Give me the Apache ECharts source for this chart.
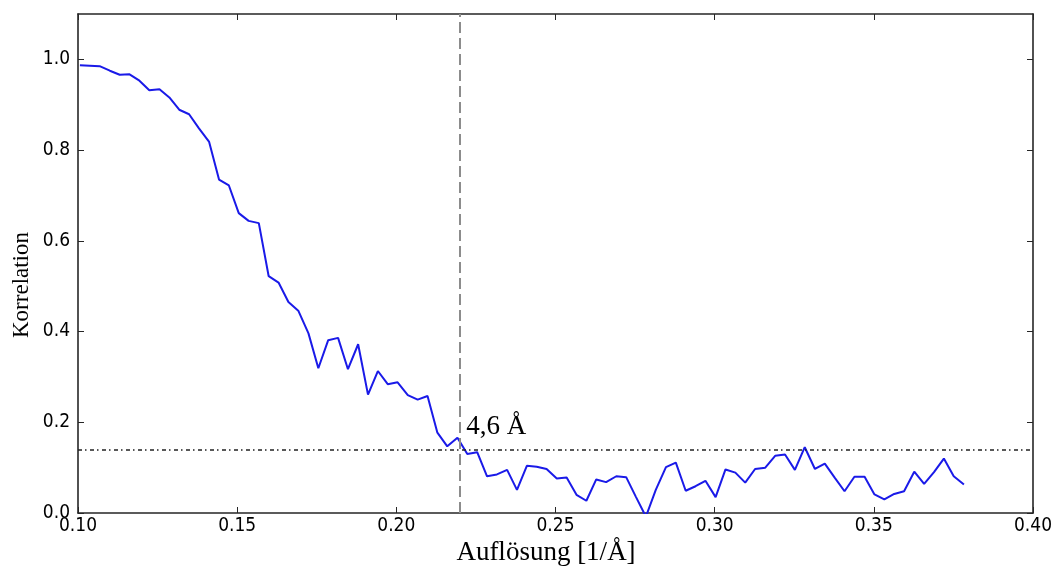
<!DOCTYPE html>
<html>
<head>
<meta charset="utf-8">
<script src="https://cdn.jsdelivr.net/npm/echarts@6/dist/echarts.min.js"></script>
<style>
  html, body { margin: 0; padding: 0; background: #fff; }
  #chart { width: 1062px; height: 574px; }
</style>
</head>
<body>
<div id="chart"></div>
<script>
// resolution shells [1/Å] and the correlation
const resolution = [
  0.1006, 0.1037, 0.1068, 0.1100, 0.1131, 0.1162, 0.1193, 0.1224, 0.1256, 0.1287,
  0.1318, 0.1349, 0.1380, 0.1412, 0.1443, 0.1474, 0.1505, 0.1536, 0.1568, 0.1599,
  0.1630, 0.1661, 0.1692, 0.1724, 0.1755, 0.1786, 0.1817, 0.1848, 0.1880, 0.1911,
  0.1942, 0.1973, 0.2004, 0.2036, 0.2067, 0.2098, 0.2129, 0.2160, 0.2192, 0.2223,
  0.2254, 0.2285, 0.2316, 0.2348, 0.2379, 0.2410, 0.2441, 0.2472, 0.2504, 0.2535,
  0.2566, 0.2597, 0.2628, 0.2659, 0.2691, 0.2722, 0.2753, 0.2784, 0.2815, 0.2847,
  0.2878, 0.2909, 0.2940, 0.2971, 0.3003, 0.3034, 0.3065, 0.3096, 0.3127, 0.3159,
  0.3190, 0.3221, 0.3252, 0.3283, 0.3315, 0.3346, 0.3377, 0.3408, 0.3439, 0.3471,
  0.3502, 0.3533, 0.3564, 0.3595, 0.3627, 0.3658, 0.3689, 0.3720, 0.3751, 0.3783
];
const correlation = [
  0.987, 0.986, 0.985, 0.975, 0.966, 0.967, 0.953, 0.932, 0.934, 0.916,
  0.889, 0.879, 0.848, 0.818, 0.735, 0.722, 0.661, 0.644, 0.639, 0.522,
  0.508, 0.465, 0.446, 0.396, 0.319, 0.381, 0.386, 0.317, 0.372, 0.261,
  0.313, 0.284, 0.288, 0.260, 0.250, 0.258, 0.177, 0.147, 0.166, 0.130,
  0.134, 0.081, 0.085, 0.095, 0.051, 0.104, 0.102, 0.097, 0.076, 0.078,
  0.040, 0.027, 0.074, 0.068, 0.081, 0.079, 0.035, -0.008, 0.051, 0.101,
  0.111, 0.049, 0.059, 0.071, 0.035, 0.096, 0.089, 0.067, 0.097, 0.100,
  0.126, 0.129, 0.095, 0.145, 0.097, 0.109, 0.078, 0.048, 0.080, 0.080,
  0.041, 0.030, 0.042, 0.048, 0.091, 0.064, 0.090, 0.120, 0.081, 0.063
];
const yTicks = [0.0, 0.2, 0.4, 0.6, 0.8, 1.0];
const cutoff = 0.2212;     // resolution where the curve crosses the threshold
const threshold = 0.145;
const cutoffLabel = '4,6 Å';

const tickFont = "'DejaVu Sans Condensed', 'DejaVu Sans', sans-serif";
const titleFont = "'Liberation Serif', 'DejaVu Serif', serif";
const frame = { show: true, onZero: false, lineStyle: { color: '#262626', width: 1.6 } };
const ticksIn = { show: true, inside: true, length: 6, lineStyle: { color: '#262626', width: 1 } };

const chart = echarts.init(document.getElementById('chart'));

chart.setOption({
  animation: false,
  backgroundColor: '#fff',
  grid: { left: 78, right: 29, top: 14, bottom: 61 },
  xAxis: [
    {
      type: 'value', min: 0.1, max: 0.4, interval: 0.05,
      axisLine: frame, axisTick: ticksIn, splitLine: { show: false },
      axisLabel: {
        margin: 4, color: '#000', fontFamily: tickFont, fontSize: 19,
        formatter: v => v.toFixed(2)
      }
    },
    {
      type: 'value', position: 'top', min: 0.1, max: 0.4, interval: 0.05,
      axisLine: frame, axisTick: ticksIn, axisLabel: { show: false }, splitLine: { show: false }
    }
  ],
  yAxis: [
    {
      type: 'value', min: 0, max: 1.1,
      axisLine: frame,
      axisTick: Object.assign({ customValues: yTicks }, ticksIn),
      splitLine: { show: false },
      axisLabel: {
        customValues: yTicks, margin: 8, color: '#000', fontFamily: tickFont, fontSize: 19,
        formatter: v => v.toFixed(1)
      }
    },
    {
      type: 'value', position: 'right', min: 0, max: 1.1,
      axisLine: frame,
      axisTick: Object.assign({ customValues: yTicks }, ticksIn),
      axisLabel: { show: false }, splitLine: { show: false }
    }
  ],
  series: [
    {
      type: 'line',
      data: resolution.map((x, i) => [x, correlation[i]]),
      showSymbol: false,
      clip: true,
      lineStyle: { color: '#1a1ae8', width: 2 },
      markLine: {
        silent: true,
        symbol: 'none',
        label: { show: false },
        data: [
          { xAxis: cutoff, lineStyle: { color: '#8c8c8c', width: 2, type: [11, 5] } },
          { yAxis: threshold, lineStyle: { color: '#222', width: 1.5, type: [4, 3, 1.5, 3.5] } }
        ]
      },
      markPoint: {
        silent: true,
        symbol: 'circle',
        symbolSize: 1,
        itemStyle: { color: 'rgba(0,0,0,0)' },
        data: [{
          coord: [cutoff, 0.19],
          label: {
            show: true, position: 'right', distance: 2, formatter: cutoffLabel,
            color: '#000', fontFamily: titleFont, fontSize: 27
          }
        }]
      }
    }
  ],
  graphic: [
    {
      type: 'text', x: 546, y: 553,
      style: {
        text: 'Auflösung [1/Å]', fill: '#000', font: '27px ' + titleFont,
        align: 'center', verticalAlign: 'middle'
      }
    },
    {
      type: 'text', x: 22, y: 285, rotation: Math.PI / 2,
      style: {
        text: 'Korrelation', fill: '#000', font: '23px ' + titleFont,
        align: 'center', verticalAlign: 'middle'
      }
    }
  ]
});

window.addEventListener('resize', () => chart.resize());
</script>
</body>
</html>
